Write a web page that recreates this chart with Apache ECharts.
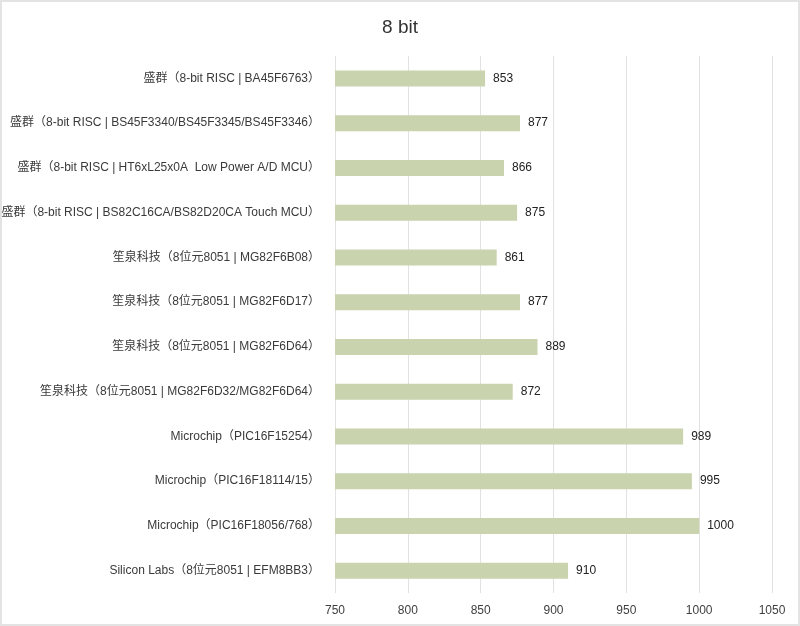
<!DOCTYPE html>
<html><head><meta charset="utf-8">
<script src="https://cdn.jsdelivr.net/npm/echarts@6/dist/echarts.min.js"></script>
<style>
html,body{margin:0;padding:0;background:#fff;}
#wrap{width:800px;height:626px;box-sizing:border-box;border:2px solid #e3e3e3;position:relative;}
#c{position:absolute;left:-2px;top:-2px;width:800px;height:626px;}
</style></head>
<body><div id="wrap"><div id="c"></div></div>
<script>
var titleText = "8 bit";
var categories = [
  "盛群（8-bit RISC | BA45F6763）",
  "盛群（8-bit RISC | BS45F3340/BS45F3345/BS45F3346）",
  "盛群（8-bit RISC | HT6xL25x0A  Low Power A/D MCU）",
  "盛群（8-bit RISC | BS82C16CA/BS82D20CA Touch MCU）",
  "笙泉科技（8位元8051 | MG82F6B08）",
  "笙泉科技（8位元8051 | MG82F6D17）",
  "笙泉科技（8位元8051 | MG82F6D64）",
  "笙泉科技（8位元8051 | MG82F6D32/MG82F6D64）",
  "Microchip（PIC16F15254）",
  "Microchip（PIC16F18114/15）",
  "Microchip（PIC16F18056/768）",
  "Silicon Labs（8位元8051 | EFM8BB3）"
];
var values = [853, 877, 866, 875, 861, 877, 889, 872, 989, 995, 1000, 910];
var axisMin = 750, axisMax = 1050, axisStep = 50;

var font = "'Liberation Sans', 'Noto Sans CJK SC', sans-serif";
var chart = echarts.init(document.getElementById('c'));
chart.setOption({
  animation: false,
  textStyle: {fontFamily: font},
  title: {text: titleText, left: 'center', top: 13,
    textStyle: {fontSize: 19, fontWeight: 'normal', color: '#333', fontFamily: font}},
  grid: {left: 335, right: 28, top: 56, bottom: 33, containLabel: false, outerBoundsMode: 'none'},
  xAxis: {type: 'value', min: axisMin, max: axisMax, interval: axisStep,
    axisLine: {show: false}, axisTick: {show: false},
    splitLine: {show: true, lineStyle: {color: '#e2e2e2', width: 1}},
    axisLabel: {color: '#404040', fontSize: 12, margin: 12, fontFamily: font,
      formatter: function (v) { return String(v); }}},
  yAxis: {type: 'category', data: categories, inverse: true,
    axisLine: {show: false}, axisTick: {show: false},
    axisLabel: {color: '#3a3a3a', fontSize: 12, margin: 15, fontFamily: font}},
  series: [{type: 'bar', data: values, barWidth: 16,
    itemStyle: {color: '#c9d3ad'},
    label: {show: true, position: 'right', distance: 8, color: '#222', fontSize: 12, fontFamily: font}}]
});
</script></body></html>
